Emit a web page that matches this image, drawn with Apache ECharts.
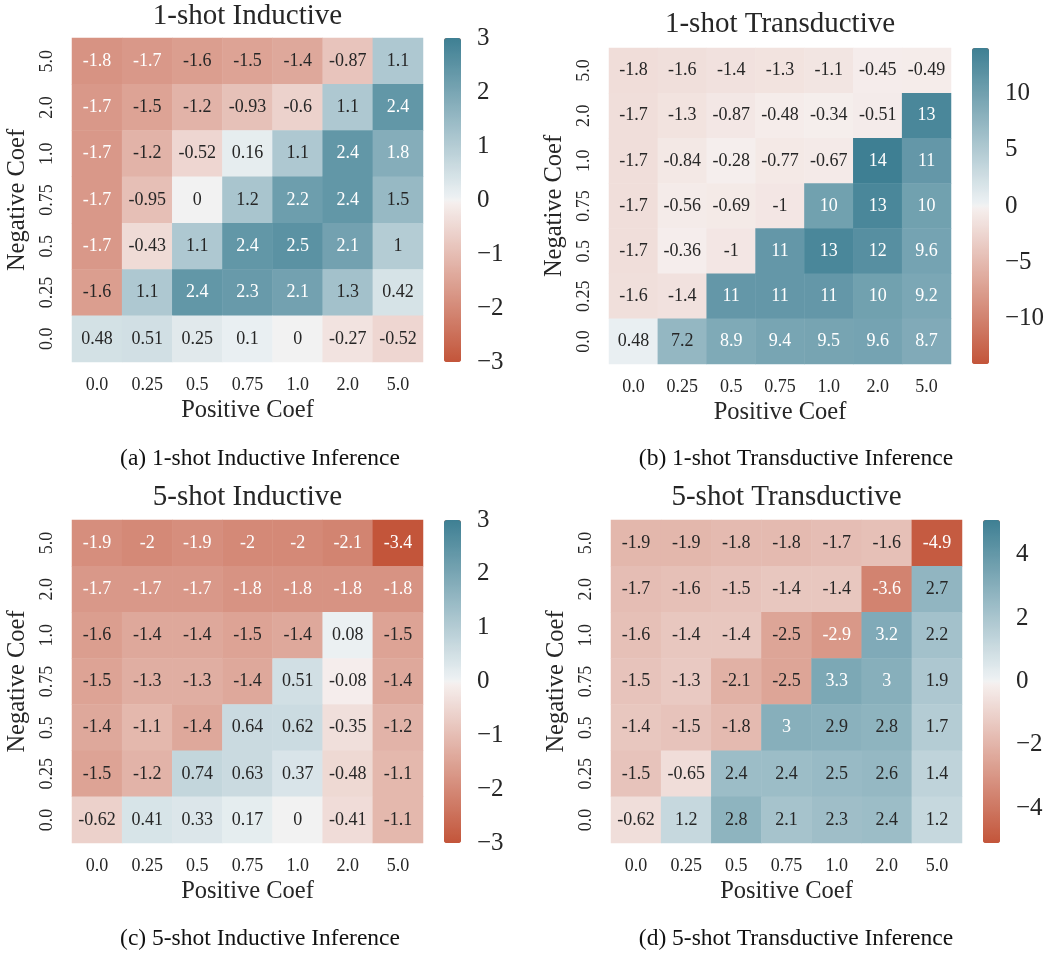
<!DOCTYPE html>
<html><head><meta charset="utf-8">
<script src="https://cdn.jsdelivr.net/npm/echarts@6/dist/echarts.min.js"></script>
<style>html,body{margin:0;padding:0;background:#fff}#c{width:1052px;height:953px}</style>
</head><body><div id="c"></div>
<script>
// ---------------- DATA ----------------
const posCoefs = ['0.0', '0.25', '0.5', '0.75', '1.0', '2.0', '5.0'];
const negCoefs = ['0.0', '0.25', '0.5', '0.75', '1.0', '2.0', '5.0'];
// rows listed top (Negative Coef 5.0) to bottom (Negative Coef 0.0), columns Positive Coef 0.0..5.0
const oneShotInductive = [
  [-1.8, -1.7, -1.6, -1.5, -1.4, -0.87, 1.1],
  [-1.7, -1.5, -1.2, -0.93, -0.6, 1.1, 2.4],
  [-1.7, -1.2, -0.52, 0.16, 1.1, 2.4, 1.8],
  [-1.7, -0.95, 0, 1.2, 2.2, 2.4, 1.5],
  [-1.7, -0.43, 1.1, 2.4, 2.5, 2.1, 1],
  [-1.6, 1.1, 2.4, 2.3, 2.1, 1.3, 0.42],
  [0.48, 0.51, 0.25, 0.1, 0, -0.27, -0.52]
];
const oneShotTransductive = [
  [-1.8, -1.6, -1.4, -1.3, -1.1, -0.45, -0.49],
  [-1.7, -1.3, -0.87, -0.48, -0.34, -0.51, 13],
  [-1.7, -0.84, -0.28, -0.77, -0.67, 14, 11],
  [-1.7, -0.56, -0.69, -1, 10, 13, 10],
  [-1.7, -0.36, -1, 11, 13, 12, 9.6],
  [-1.6, -1.4, 11, 11, 11, 10, 9.2],
  [0.48, 7.2, 8.9, 9.4, 9.5, 9.6, 8.7]
];
const fiveShotInductive = [
  [-1.9, -2, -1.9, -2, -2, -2.1, -3.4],
  [-1.7, -1.7, -1.7, -1.8, -1.8, -1.8, -1.8],
  [-1.6, -1.4, -1.4, -1.5, -1.4, 0.08, -1.5],
  [-1.5, -1.3, -1.3, -1.4, 0.51, -0.08, -1.4],
  [-1.4, -1.1, -1.4, 0.64, 0.62, -0.35, -1.2],
  [-1.5, -1.2, 0.74, 0.63, 0.37, -0.48, -1.1],
  [-0.62, 0.41, 0.33, 0.17, 0, -0.41, -1.1]
];
const fiveShotTransductive = [
  [-1.9, -1.9, -1.8, -1.8, -1.7, -1.6, -4.9],
  [-1.7, -1.6, -1.5, -1.4, -1.4, -3.6, 2.7],
  [-1.6, -1.4, -1.4, -2.5, -2.9, 3.2, 2.2],
  [-1.5, -1.3, -2.1, -2.5, 3.3, 3, 1.9],
  [-1.4, -1.5, -1.8, 3, 2.9, 2.8, 1.7],
  [-1.5, -0.65, 2.4, 2.4, 2.5, 2.6, 1.4],
  [-0.62, 1.2, 2.8, 2.1, 2.3, 2.4, 1.2]
];
const panelTitles = ['1-shot Inductive', '1-shot Transductive', '5-shot Inductive', '5-shot Transductive'];
const captions = ['(a) 1-shot Inductive Inference', '(b) 1-shot Transductive Inference',
                  '(c) 5-shot Inductive Inference', '(d) 5-shot Transductive Inference'];
const colorLimits = [3, 14, 3, 5.1];
const colorbarTicksA = [-3, -2, -1, 0, 1, 2, 3];
const colorbarTicksB = [-10, -5, 0, 5, 10];
const colorbarTicksC = [-3, -2, -1, 0, 1, 2, 3];
const colorbarTicksD = [-4, -2, 0, 2, 4];
const xAxisName = 'Positive Coef';
const yAxisName = 'Negative Coef';

// ---------------- STYLE / LAYOUT ----------------
const SERIF = "'Liberation Serif', 'Times New Roman', serif";
const panels = [
  {m: oneShotInductive, ticks: colorbarTicksA, grid: {left: 72, top: 38, width: 351, height: 324}, cb: {left: 444, width: 17}, titleY: 2},
  {m: oneShotTransductive, ticks: colorbarTicksB, grid: {left: 609, top: 48, width: 342, height: 316}, cb: {left: 972, width: 17}, titleY: 10},
  {m: fiveShotInductive, ticks: colorbarTicksC, grid: {left: 72, top: 520, width: 351, height: 323}, cb: {left: 444, width: 17}, titleY: 483},
  {m: fiveShotTransductive, ticks: colorbarTicksD, grid: {left: 611, top: 520, width: 351, height: 323}, cb: {left: 983, width: 17}, titleY: 483}
];
const captionPos = [{x: 260, y: 447}, {x: 796, y: 447}, {x: 260, y: 927}, {x: 796, y: 927}];

function mix(a, b, t) {
  return 'rgb(' + [0, 1, 2].map(k => Math.round(a[k] + (b[k] - a[k]) * t)).join(',') + ')';
}
function buildCmap() {
  const red = [195, 85, 58], pk = [246, 240, 239], mid = [242, 242, 242], bg = [238, 242, 244], blue = [62, 127, 147];
  const out = [];
  for (let i = 0; i < 128; i++) out.push(mix(red, pk, i / 127));
  out.push(mix(mid, mid, 0));
  for (let i = 0; i < 128; i++) out.push(mix(bg, blue, i / 127));
  return out;
}
const cmap = buildCmap();
const fmtMinus = v => (v < 0 ? '\u2212' + Math.abs(v) : String(v));

const option = {
  backgroundColor: '#ffffff',
  animation: false,
  title: [], grid: [], xAxis: [], yAxis: [], series: [], visualMap: []
};

panels.forEach((p, k) => {
  const R = colorLimits[k];
  const data = [];
  p.m.forEach((row, i) => row.forEach((v, j) => data.push([j, negCoefs.length - 1 - i, v])));
  const g = p.grid;
  option.grid.push({left: g.left, top: g.top, width: g.width, height: g.height, containLabel: false});
  option.grid.push({left: p.cb.left, top: g.top, width: p.cb.width, height: g.height, containLabel: false});
  option.title.push({
    text: panelTitles[k], left: g.left + g.width / 2, top: p.titleY, textAlign: 'center', padding: 0,
    textStyle: {fontFamily: SERIF, fontSize: 29, fontWeight: 'normal', color: '#262626'}
  });
  option.title.push({
    text: captions[k], left: captionPos[k].x, top: captionPos[k].y, textAlign: 'center', padding: 0,
    textStyle: {fontFamily: SERIF, fontSize: 23.5, fontWeight: 'normal', color: '#111'}
  });
  const gi = 2 * k;
  option.xAxis.push({
    type: 'category', gridIndex: gi, data: posCoefs,
    axisLine: {show: false}, axisTick: {show: false}, splitLine: {show: false},
    axisLabel: {fontFamily: SERIF, fontSize: 18, color: '#262626', margin: 14},
    name: xAxisName, nameLocation: 'middle', nameGap: 36,
    nameTextStyle: {fontFamily: SERIF, fontSize: 24.5, color: '#262626'}
  });
  option.yAxis.push({
    type: 'category', gridIndex: gi, data: negCoefs,
    axisLine: {show: false}, axisTick: {show: false}, splitLine: {show: false},
    axisLabel: {fontFamily: SERIF, fontSize: 18, color: '#262626', margin: 16, rotate: 90},
    name: yAxisName, nameLocation: 'middle', nameGap: 42,
    nameTextStyle: {fontFamily: SERIF, fontSize: 24.5, color: '#262626'}
  });
  // colorbar axis
  option.xAxis.push({type: 'value', gridIndex: gi + 1, show: false, min: 0, max: 1});
  option.yAxis.push({
    type: 'value', gridIndex: gi + 1, min: -R, max: R, position: 'right',
    axisLine: {show: false}, axisTick: {show: false}, splitLine: {show: false},
    axisLabel: {fontFamily: SERIF, fontSize: 25, color: '#262626', margin: 16,
      customValues: p.ticks, formatter: fmtMinus, showMinLabel: true, showMaxLabel: true}
  });
  const sIdx = option.series.length;
  option.series.push({
    type: 'heatmap', xAxisIndex: gi, yAxisIndex: gi, data: data,
    itemStyle: {borderWidth: 0},
    emphasis: {disabled: true},
    label: {
      show: true,
      formatter: prm => {
        const v = prm.value[2];
        const white = v / R >= 0.585 || v / R <= -0.55;
        return (white ? '{w|' : '{d|') + String(v) + '}';
      },
      rich: {
        w: {color: '#ffffff', fontFamily: SERIF, fontSize: 18},
        d: {color: '#262626', fontFamily: SERIF, fontSize: 18}
      }
    }
  });
  option.series.push({type: 'scatter', xAxisIndex: gi + 1, yAxisIndex: gi + 1, data: [], silent: true});
  option.visualMap.push({
    type: 'continuous', seriesIndex: sIdx, dimension: 2, min: -R, max: R,
    calculable: false, show: true, orient: 'vertical', left: p.cb.left, top: g.top,
    itemWidth: p.cb.width, itemHeight: g.height, padding: 0, text: null, hoverLink: false,
    inRange: {color: cmap}, outOfRange: {color: ['rgb(195,85,58)']}
  });
});

const chart = echarts.init(document.getElementById('c'), null, {renderer: 'canvas'});
chart.setOption(option);
</script></body></html>
